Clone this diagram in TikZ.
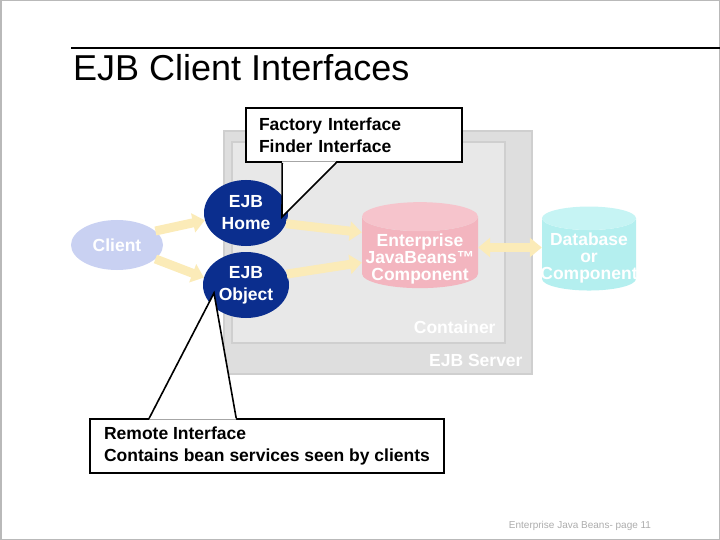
\documentclass[tikz,border=0pt]{standalone}
\usepackage{fontspec}
\setmainfont{Liberation Sans}
\usepackage{tikz}
\usetikzlibrary{shapes.geometric, arrows.meta, positioning, calc}

\definecolor{navy}{HTML}{0B2E8E}
\definecolor{faintblue}{HTML}{C9D1F2}
\definecolor{faintgold}{HTML}{FBEBB8}
\definecolor{beanpink}{HTML}{F3B5BF}
\definecolor{beanpinktop}{HTML}{F6C4CC}
\definecolor{dbcyan}{HTML}{B4EFEF}
\definecolor{dbcyantop}{HTML}{C6F4F4}
\definecolor{srvgray}{HTML}{DEDEDE}
\definecolor{boxgray}{HTML}{E8E8E8}
\definecolor{edgegray}{HTML}{CFCFCF}

\begin{document}
\begin{tikzpicture}[x=1pt, y=-1pt, font=\bfseries\fontsize{17.5}{17}\selectfont,
  bubble/.style={ellipse, inner sep=0pt, text=white, align=center,
    font=\bfseries\fontsize{17.5}{22}\selectfont},
  drum/.style={cylinder, shape border rotate=90, aspect=0.25, inner sep=0pt,
    cylinder uses custom fill},
  panel/.style={rectangle, draw=edgegray, line width=1.5pt, inner sep=0pt},
  tag/.style={text=white, inner sep=0pt, align=center},
  callbox/.style={rectangle, draw, fill=white, line width=1.6pt, inner xsep=13pt,
    align=left, font=\bfseries\fontsize{17.5}{22}\selectfont},
  flow/.style={faintgold, line width=9pt, -{Triangle[length=12pt, width=19pt]}}]
  \useasboundingbox (0,0) rectangle (720,540);
  \draw[gray!55, line width=1.5pt] (0.75,0.75) rectangle (719.25,539.25);

  % title
  \draw[line width=1.5pt] (71,48) -- (720,48);
  \node[anchor=base west, inner sep=0pt, font=\mdseries\fontsize{36}{40}\selectfont]
    (title) at (73,81) {EJB Client Interfaces};

  % server and container
  \node[panel, fill=srvgray, minimum width=308pt, minimum height=243pt] (server) at (378,252.5) {};
  \node[panel, fill=boxgray, minimum width=273pt, minimum height=201pt] (cont) at (368.5,242.5) {};
  \node[tag, anchor=base east] (contlbl) at ($(cont.south east)+(-10,-10)$) {Container};
  \node[tag, anchor=base east] (srvlbl) at ($(server.south east)+(-10,-8)$) {EJB Server};

  % parts
  \node[bubble, fill=faintblue, minimum width=92pt, minimum height=50pt] (client) at (117,245) {Client};
  \node[bubble, fill=navy, minimum width=84pt, minimum height=66pt] (home) at (246,213) {EJB\\Home};
  \node[bubble, fill=navy, minimum width=86pt, minimum height=66pt] (object) at (246,285) {EJB\\Object};
  \node[drum, cylinder body fill=beanpink, cylinder end fill=beanpinktop,
        minimum width=116pt, minimum height=86pt,
        label={[tag, name=beantext, yshift=-6.5pt]center:Enterprise\\JavaBeans\texttrademark\\Component}]
        (bean) at (420,252.5) {\hspace*{116pt}};
  \node[drum, cylinder body fill=dbcyan, cylinder end fill=dbcyantop,
        minimum width=94pt, minimum height=84pt,
        label={[tag, name=dbtext, yshift=-3.5pt]center:Database\\or\\Component}]
        (db) at (589,254.5) {\hspace*{94pt}};

  \draw[flow] (client.20) -- (home.190);
  \draw[flow] (client.-20) -- (object.170);
  \draw[flow] (home.-15) -- ($(bean.west)+(0,-20)$);
  \draw[flow] (object.15) -- ($(bean.west)+(0,10)$);
  \draw[flow, {Triangle[length=12pt, width=19pt]}-{Triangle[length=12pt, width=19pt]}]
    ($(bean.east)+(0,-5)$) -- ($(db.west)+(0,-7)$);

  % callouts
  \node[callbox, text width=190pt, minimum height=54pt] (fac) at (354,135)
    {Factory Interface\\Finder Interface};
  \coordinate (tiphome) at (282,217);
  \fill[white] ($(fac.south west)+(37,-1.5)$) -- (tiphome) -- ($(fac.south west)+(91,-1.5)$) -- cycle;
  \draw[line width=1.6pt] ($(fac.south west)+(37,0)$) -- (tiphome) -- ($(fac.south west)+(91,0)$);

  \node[callbox, minimum width=354pt, minimum height=54pt] (rem) at (267,446)
    {Remote Interface\\Contains bean services seen by clients};
  \coordinate (tipobj) at (214,293);
  \fill[white] ($(rem.north west)+(60,1.5)$) -- (tipobj) -- ($(rem.north west)+(147,1.5)$) -- cycle;
  \draw[line width=1.6pt] ($(rem.north west)+(60,0)$) -- (tipobj) -- ($(rem.north west)+(147,0)$);

  % footer
  \node[text=gray!65, font=\mdseries\fontsize{10}{12}\selectfont, inner sep=0pt]
    (foot) at (580,526) {Enterprise Java Beans- page 11};
\end{tikzpicture}
\end{document}
